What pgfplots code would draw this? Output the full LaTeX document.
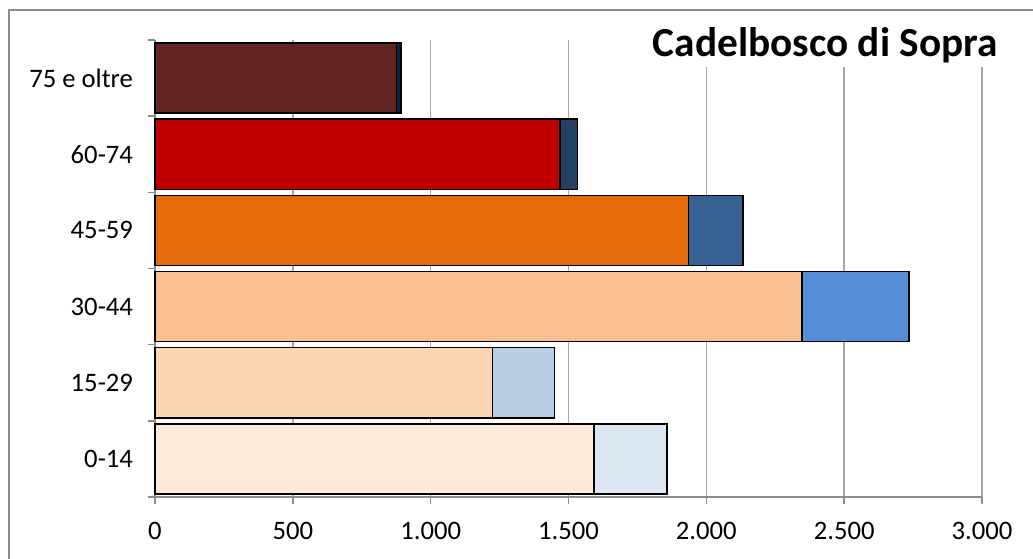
\documentclass[border=0pt]{standalone}
\usepackage{pgfplots}
\pgfplotsset{compat=1.18}
\usepackage{fontspec}
\setmainfont{Carlito}
\definecolor{axisgray}{HTML}{8C8C8C}
\definecolor{gridgray}{HTML}{A6A6A6}
\definecolor{frame}{HTML}{8C8C8C}
\definecolor{wA}{HTML}{FDEADA}\definecolor{bA}{HTML}{DCE6F2}
\definecolor{wB}{HTML}{FCD5B5}\definecolor{bB}{HTML}{B9CDE5}
\definecolor{wC}{HTML}{FAC090}\definecolor{bC}{HTML}{558ED5}
\definecolor{wD}{HTML}{E46C0A}\definecolor{bD}{HTML}{376092}
\definecolor{wE}{HTML}{C00000}\definecolor{bE}{HTML}{244062}
\definecolor{wF}{HTML}{632523}\definecolor{bF}{HTML}{10253F}
\begin{document}
\begin{tikzpicture}[x=0.75pt,y=0.75pt]
\path[use as bounding box] (0,0) rectangle (1033,558);
\draw[frame, line width=1.5pt] (9,548) rectangle (1060,-20);
\begin{axis}[
  at={(116.25pt,45.75pt)}, anchor=south west,
  scale only axis, width=620.25pt, height=342.75pt,
  xmin=0, xmax=3000, ymin=-0.5, ymax=5.5,
  axis x line*=bottom, axis y line*=left,
  axis line style={draw=axisgray, line width=1.2pt, -},
  xtick={0,500,...,3000},
  xmajorgrids, grid style={gridgray, line width=1.2pt},
  tick align=outside, major tick length=5.5pt,
  tick style={draw=axisgray, line width=1.2pt},
  ytick={-0.5,0.5,...,5.5}, yticklabels={},
  extra y ticks={0,1,2,3,4,5},
  extra y tick labels={0-14,15-29,30-44,45-59,60-74,75 e oltre},
  extra y tick style={major tick length=0pt, yticklabel style={xshift=-13pt}},
  ticklabel style={font=\fontsize{20}{24}\selectfont},
  xticklabel style={yshift=-10pt},
  /pgf/number format/assume math mode=true,
  /pgf/number format/.cd, 1000 sep={.},
  /pgfplots/.cd,
  xbar, bar width=0.92, bar shift=0pt,
  every axis plot/.append style={draw=black, line width=1.1pt},
  clip=false,
]
% totals (warm + blue segment), drawn first
\addplot[fill=bA] coordinates {(1858,0)};
\addplot[fill=bB] coordinates {(1449,1)};
\addplot[fill=bC] coordinates {(2736,2)};
\addplot[fill=bD] coordinates {(2133,3)};
\addplot[fill=bE] coordinates {(1532,4)};
\addplot[fill=bF] coordinates {(893,5)};
% warm segments
\addplot[fill=wA] coordinates {(1593,0)};
\addplot[fill=wB] coordinates {(1224,1)};
\addplot[fill=wC] coordinates {(2347,2)};
\addplot[fill=wD] coordinates {(1935,3)};
\addplot[fill=wE] coordinates {(1469,4)};
\addplot[fill=wF] coordinates {(876,5)};
\end{axis}
\node[anchor=east, fill=white, inner sep=3pt, font=\fontsize{31}{36}\selectfont\bfseries] at (1002,513) {Cadelbosco di Sopra};
\end{tikzpicture}
\end{document}
